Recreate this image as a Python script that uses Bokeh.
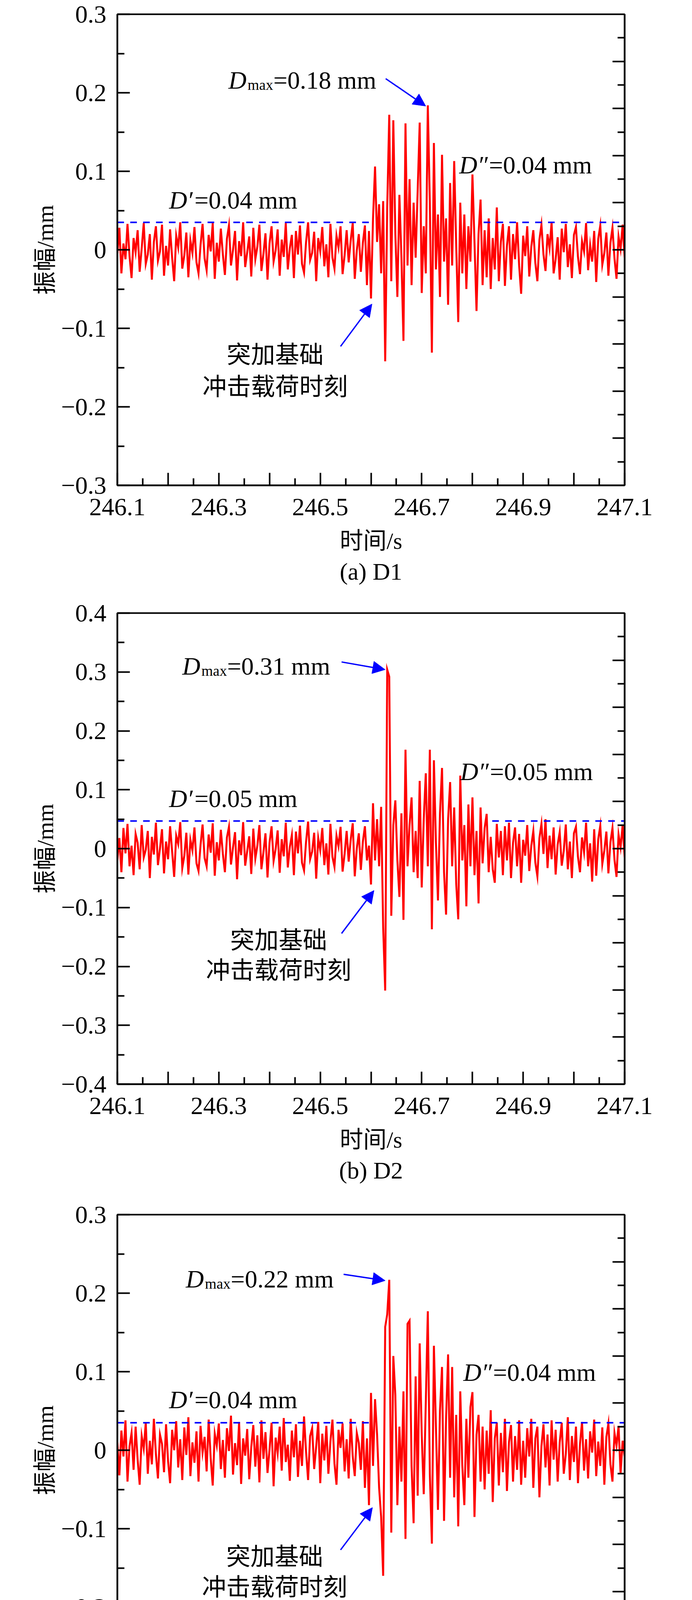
import numpy as np
from bokeh.plotting import figure
from bokeh.models import (Range1d, LinearAxis, FixedTicker, CustomJSTickFormatter,
                          Label, Arrow, NormalHead, Title)
from bokeh.layouts import column
from bokeh.embed import file_html
from bokeh.resources import INLINE

# ---------------- data (amplitude in micrometres, sampled every 4 ms from 246.100 s) ----
T0 = 246.1
DT = 0.004

AMP_A_UM = [
    -5, 28, -30, 8, -12, 33, -8, -36, 15, -3, 25, -28, 2, 34, -18, -6, 20, -38, 10, 30,
    -14, -2, 32, -33, 5, -20, 26, -10, -40, 18, 3, 35, -24, -7, 22, -35, 12, -4, 29, -16,
    -30, 6, 33, -11, -26, 19, -2, 34, -37, 9, -15, 27, -6, -32, 14, 31, -20, 0, 24, -39,
    11, -8, 35, -22, -3, 17, -34, 28, -12, 4, 32, -27, -5, 21, -38, 8, 30, -15, -1, 26,
    -33, 13, -9, 34, -25, 2, 19, -36, 24, -6, 31, -18, -29, 10, 35, -13, -4, 23, -40, 15,
    -2, 29, -21, 7, -35, 33, -10, -24, 18, 3, 30, -31, -7, 25, -16, 12, 34, -37, -1, 20,
    -28, 9, 31, -45, 24,
    -62, 40, 106, 10, 58, -30, 62, -142, 55, 172, -40, 165, 20, -60, 70, -10, -116, 161, -20, 90,
    -45, 60, -10, 75, 162, -55, 30, -30, 184, 60, -131, 136, -25, 45, -60, 121, -15, 40, -70, 85,
    -20, 113, 5, -92, 60, -30, 45, -50, 30, -15, 96, 10, -78, 20, 64, -45, 25, -35, 40, -50,
    15, -25, 54, -40, 10, 33, -46, 5, 30, -38, 20, -12, 35, -20, -56, 18,
    -8, 30, -34, 4, 25, -17, -40, 13, 32, -6, -27, 20, 2, 35, -30, -12, 16, -38, 27, -3,
    33, -22, 7, -36, 19, 29, -9, -31, 11, -2, 34, -26, 6, -15, 24, -41, 14, 31, -19, -4,
    22, -33, 9, 28, -11, -37, 17, 1, 32, -10,
]

AMP_B_UM = [
    -20, 18, -40, 35, -8, 42, -30, 5, -45, 25, 10, -35, 40, -15, -2, 30, -50, 20, -10, 44,
    -28, 0, 33, -42, 12, -18, 38, -5, -48, 22, 8, 45, -33, -12, 27, -44, 15, -3, 36, -25,
    -38, 6, 41, -16, -30, 24, -7, 43, -46, 11, -20, 32, -9, -40, 19, 37, -27, 2, 28, -52,
    14, -11, 45, -29, -4, 21, -43, 34, -17, 5, 40, -35, -6, 26, -49, 10, 38, -21, -1, 31,
    -41, 16, -13, 44, -32, 3, 23, -45, 29, -8, 39, -24, -37, 12, 46, -18, -5, 27, -51, 18,
    -3, 35, -28, 9, -44, 42, -14, -31, 22, 4, 37, -39, -9, 30, -22, 15, 43, -47, 0, 26,
    -36, 12, 38, -20, 5,
    -61, 77, -20, 50, -30, 71, -134, -241, 304, 292, -114, 40, 82, -20, -82, 60, -121, 168, -30, 40,
    87, -40, 30, -50, 115, -66, 50, 128, -30, 168, -137, 150, 10, -88, 60, 137, -40, -112, 50, 113,
    -30, 70, -60, -120, 124, -20, 40, -98, 75, -30, 87, -45, 30, -93, 70, -25, 35, 59, -40, 20,
    -35, -58, 42, -15, 30, -45, 38, -20, 44, -50, 10, 36, -30, 25, -58, 15,
    -12, 40, -38, 5, 30, -24, -47, 18, 42, -9, 50, -33, 22, -18, 36, -44, 7, 28, -29, -4,
    41, -35, 12, -50, 26, 37, -14, -40, 19, -6, 44, -30, 9, -56, 33, -46, 16, 39, -26, -3,
    29, -42, 11, 35, -19, -48, 24, 2, 40, -15,
]

AMP_C_UM = [
    10, -32, 25, -8, 38, -40, 5, 22, -25, 30, -12, -44, 18, 2, 35, -30, 12, -18, 40, -5,
    -36, 20, 8, -28, 33, -14, -42, 26, 0, 37, -22, 14, -38, 29, -6, 42, -33, 10, -16, 24,
    -40, 31, -3, 17, -27, 39, -10, -45, 21, 6, 34, -24, 13, -35, 28, -1, 44, -31, 9, -19,
    36, -43, 15, -7, 27, -37, 4, 32, -21, 19, -41, 38, -11, 23, -29, 1, 35, -46, 16, -4,
    30, -26, 41, -15, 7, -39, 25, -9, 33, -34, 12, -20, 43, -2, -38, 18, 28, -24, 5, 36,
    -42, 21, -13, 31, -30, 11, 39, -17, -44, 26, 3, 34, -27, 14, -36, 40, -8, -33, 22, 9,
    -25, 37, -48, 15, -70,
    73, -20, 65, 20, -48, -85, -160, 157, 173, 217, -105, 120, 70, -70, 30, -40, 75, -113, 161, 165,
    -20, -93, 94, -58, 136, 20, -56, 60, 177, -30, -119, 133, 30, -76, 50, 106, -90, 40, 122, -35,
    106, -60, 45, -97, 75, -20, -70, 40, -35, 55, 74, -85, 20, 45, -40, 30, -50, 25, -30, 51,
    -66, 15, 35, -45, 22, -28, 40, -52, 10, 32, -40, 18, -25, 38, -44, 12,
    -35, 28, -8, 40, -48, 15, 30, -60, 5, 33, -22, 20, -45, 38, -12, 26, -40, 10, 35, -30,
    -5, 42, -38, 18, -15, 30, -42, 8, 36, -26, 14, -36, 24, -3, 39, -33, 11, -20, 29, -44,
    17, 34, -18, -40, 22, 6, 31, -30, 12, -8,
]

AMP_D_UM = [
    -10, 52, -38, 14, -22, 40, -5, -45, 30, 8, -30, 48, -15, 20, -48, 35, 2, -26, 44, -12,
    -40, 25, 10, -34, 46, -20, 5, -50, 32, -8, 42, -28, 15, -42, 38, -3, 28, -36, 12, -18,
    45, -46, 20, -6, 36, -32, 8, 50, -24, -2, 30, -44, 18, -14, 40, -38, 4, 26, -48, 34,
    -10, 46, -30, 12, -22, 38, -42, 22, -4, 44, -35, 10, -16, 32, -50, 28, 6, -26, 42, -12,
    -38, 24, 14, -45, 36, -8, 48, -30, 2, -20, 40, -40, 16, 30, -14, -47, 26, -2, 43, -33,
    10, -24, 37, -41, 19, 5, 45, -28, -10, 33, -36, 21, 50, -18, -44, 27, 8, -32, 39, -15,
    -42, 30, -45, -20, 20,
    -30, 35, -42, 20, -25, 40, 58, -60, 30, 98, -94, -153, 208, 101, -75, 98, -91, 40, 121, -97,
    169, -127, 107, -95, 60, -30, 159, -94, 50, -40, 90, -50, 123, 20, -105, 105, -45, 60, -70, 114,
    -117, 40, -30, 87, -40, -91, 50, -135, 101, -30, 45, -60, 30, 80, -40, -88, 40, 90, -35, 25,
    -50, -66, 45, -20, 55, -40, 30, -55, 40, -30, 20, -82, 35, -25, 48, -40,
    15, 50, -35, -10, 38, -48, 67, -72, 20, 42, -30, 5, -50, 34, 12, -40, 48, -22, 67, -25,
    -65, 30, 8, -45, 40, -15, 52, -38, 18, -28, 36, -48, 10, 45, -20, -42, 28, 4, -54, 32,
    -12, 44, -36, 16, -46, 38, -6, 26, -30, 10,
]

SERIES = [AMP_A_UM, AMP_B_UM, AMP_C_UM, AMP_D_UM]
CAPTIONS = ["(a) D1", "(b) D2", "(c) D3", "(d) D4"]
Y_LIM = [0.3, 0.4, 0.3, 0.3]
DMAX_TXT = ["0.18", "0.31", "0.22", "0.20"]
DPRE_TXT = ["0.04", "0.05", "0.04", "0.05"]
DPOST_TXT = ["0.04", "0.05", "0.04", "0.05"]
DASH_Y = [0.035, 0.047, 0.035, 0.047]
DASH_GAP = [(246.603, 246.822), (246.606, 246.839), (246.603, 246.836), (246.625, 246.865)]

# annotation anchors in data coordinates
DMAX_POS = [(246.319, 0.216), (246.228, 0.310), (246.235, 0.218), (246.319, 0.217)]
DMAX_ARROW = [((246.629, 0.218), (246.708, 0.183)),
              ((246.542, 0.317), (246.628, 0.304)),
              ((246.546, 0.224), (246.628, 0.216)),
              ((246.628, 0.216), (246.708, 0.185))]
DPRE_POS = [(246.202, 0.063), (246.202, 0.085), (246.202, 0.064), (246.202, 0.063)]
DPOST_POS = [(246.774, 0.108), (246.776, 0.131), (246.782, 0.099), (246.789, 0.105)]
NOTE_POS = [(246.411, -0.131, -0.172), (246.418, -0.152, -0.203),
            (246.410, -0.133, -0.172), (246.434, -0.110, -0.149)]
NOTE_ARROW = [((246.540, -0.123), (246.602, -0.069)),
              ((246.542, -0.144), (246.606, -0.071)),
              ((246.540, -0.127), (246.603, -0.073)),
              ((246.547, -0.0995), (246.610, -0.046))]

FIG_H = [1533, 1540, 1539, 1488]
CAP_STANDOFF = [12, 12, 12, 2]
FIG_W = 1756
FRAME_H = 1206
TOP = 36

SERIF = "'Liberation Serif', 'Times New Roman', serif"
MIXED = "'Liberation Serif', 'Noto Sans CJK SC', serif"
CJK = "'Noto Sans CJK SC', sans-serif"

X_TICKS = [round(246.1 + 0.1 * k, 1) for k in range(11)]
X_MINOR = [round(246.15 + 0.1 * k, 2) for k in range(10)]

x_fmt = CustomJSTickFormatter(code="""
const k = Math.round(tick*10);
return (k % 2 != 0) ? (k/10).toFixed(1) : "";
""")
y_fmt = CustomJSTickFormatter(code="""
if (Math.abs(tick) < 1e-9) return "0";
const s = Math.abs(tick).toFixed(1);
return (tick < 0 ? "\\u2212" : "") + s;
""")
blank_fmt = CustomJSTickFormatter(code="return '';")


def style_axis(ax, major_in=32, minor_in=18):
    ax.axis_line_color = "black"
    ax.axis_line_width = 4
    ax.major_tick_line_color = "black"
    ax.major_tick_line_width = 4
    ax.minor_tick_line_color = "black"
    ax.minor_tick_line_width = 4
    ax.major_tick_in = major_in
    ax.major_tick_out = 0
    ax.minor_tick_in = minor_in
    ax.minor_tick_out = 0
    ax.major_label_text_font = SERIF
    ax.major_label_text_font_size = "64px"
    ax.major_label_text_color = "black"
    ax.axis_label_text_font_style = "normal"
    ax.axis_label_text_color = "black"


def text(p, x, y, s, size="64px", font=SERIF, style="normal", dx=0, dy=0,
         align="left", baseline="alphabetic"):
    p.add_layout(Label(x=x, y=y, text=s, x_offset=dx, y_offset=dy,
                       text_font=font, text_font_size=size, text_font_style=style,
                       text_color="black", text_align=align, text_baseline=baseline))


figs = []
for i in range(4):
    h = FIG_H[i]
    lim = Y_LIM[i]
    amp = np.array(SERIES[i], dtype=float) / 1000.0
    t = T0 + DT * np.arange(len(amp))

    p = figure(width=FIG_W, height=h, output_backend="svg", toolbar_location=None,
               x_range=Range1d(246.1, 247.1), y_range=Range1d(-lim, lim),
               min_border_left=300, min_border_right=157, min_border_top=TOP,
               min_border_bottom=h - TOP - FRAME_H, background_fill_color="white",
               border_fill_color="white")
    p.grid.visible = False
    p.outline_line_color = "black"
    p.outline_line_width = 4
    p.outline_line_alpha = 1

    # bottom axis
    xa = p.xaxis[0]
    xa.ticker = FixedTicker(ticks=X_TICKS, minor_ticks=X_MINOR)
    xa.formatter = x_fmt
    style_axis(xa)
    xa.major_label_standoff = 34
    xa.axis_label = "时间/s"
    xa.axis_label_text_font = MIXED
    xa.axis_label_text_font_size = "60px"
    xa.axis_label_standoff = 30

    # left axis
    ya = p.yaxis[0]
    step = 0.1
    n = int(round(lim / step))
    ya.ticker = FixedTicker(ticks=[round(k * step, 2) for k in range(-n, n + 1)],
                            minor_ticks=[round((k + 0.5) * step, 3) for k in range(-n, n)])
    ya.formatter = y_fmt
    style_axis(ya)
    ya.major_label_standoff = 28
    ya.axis_label = "振幅/mm"
    ya.axis_label_text_font = MIXED
    ya.axis_label_text_font_size = "60px"
    ya.axis_label_standoff = 4

    # right axis: unlabeled inward ticks, 20 intervals over the range
    rstep = 2 * lim / 20
    rmaj = [round(k * 2 * rstep, 4) for k in range(-4, 5)]
    rmin = [round((2 * k + 1) * rstep, 4) for k in range(-5, 5)]
    ra = LinearAxis(ticker=FixedTicker(ticks=rmaj, minor_ticks=rmin), formatter=blank_fmt)
    style_axis(ra, major_in=31, minor_in=18)
    ra.major_label_text_font_size = "1px"
    ra.major_label_standoff = 0
    p.add_layout(ra, "right")

    # signal
    p.line(t, amp, line_color="#ff0000", line_width=5, line_join="miter")

    # dashed reference levels before and after the impact
    g0, g1 = DASH_GAP[i]
    p.line([246.1, g0], [DASH_Y[i]] * 2, line_color="#0000ff", line_width=4,
           line_dash="17 16")
    p.line([g1, 247.1], [DASH_Y[i]] * 2, line_color="#0000ff", line_width=4,
           line_dash="17 16")

    # D_max label
    dx, dy = DMAX_POS[i]
    text(p, dx, dy, "D", style="italic")
    text(p, dx, dy, "max", size="38px", dx=49, dy=-12)
    text(p, dx, dy, "=" + DMAX_TXT[i] + " mm", dx=115)
    (ax0, ay0), (ax1, ay1) = DMAX_ARROW[i]
    p.add_layout(Arrow(x_start=ax0, y_start=ay0, x_end=ax1, y_end=ay1,
                       line_color="#0000ff", line_width=3.5,
                       end=NormalHead(size=32, fill_color="#0000ff", line_color="#0000ff",
                                      line_width=1)))

    # D' and D''
    px_, py_ = DPRE_POS[i]
    text(p, px_, py_, "D\u2032", style="italic")
    text(p, px_, py_, "=" + DPRE_TXT[i] + " mm", dx=65)
    qx, qy = DPOST_POS[i]
    text(p, qx, qy, "D\u2033", style="italic")
    text(p, qx, qy, "=" + DPOST_TXT[i] + " mm", dx=76)

    # impact note
    nx, ny1, ny2 = NOTE_POS[i]
    text(p, nx, ny1, "突加基础", font=CJK, size="62px", align="center", baseline="middle")
    text(p, nx, ny2, "冲击载荷时刻", font=CJK, size="62px", align="center", baseline="middle")
    (bx0, by0), (bx1, by1) = NOTE_ARROW[i]
    p.add_layout(Arrow(x_start=bx0, y_start=by0, x_end=bx1, y_end=by1,
                       line_color="#0000ff", line_width=3.5,
                       end=NormalHead(size=32, fill_color="#0000ff", line_color="#0000ff",
                                      line_width=1)))

    cap = Title(text=CAPTIONS[i], align="center", text_font=SERIF,
                text_font_size="62px", text_font_style="normal", text_color="black",
                standoff=CAP_STANDOFF[i])
    p.add_layout(cap, "below")

    figs.append(p)

layout = column(*figs, spacing=0)
open("out.html", "w").write(file_html(layout, INLINE))
